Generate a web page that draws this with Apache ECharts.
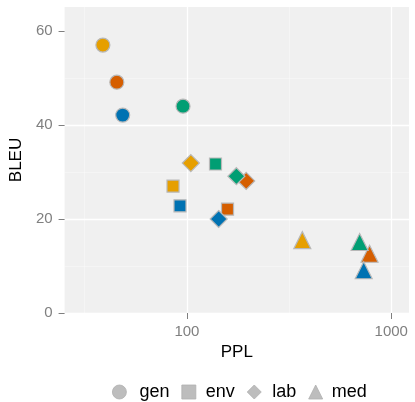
<!DOCTYPE html>
<html>
<head>
<meta charset="utf-8">
<script src="https://cdn.jsdelivr.net/npm/echarts@6.0.0/dist/echarts.min.js"></script>
<style>
  html, body { margin: 0; padding: 0; background: #fff; }
  #chart { width: 415px; height: 402px; }
</style>
</head>
<body>
<div id="chart"></div>
<script>
const domains = ["gen", "env", "lab", "med"];
const domainSymbols = ["circle", "rect", "diamond", "triangle"];
const modelColors = ["#E69F00", "#D55E00", "#0072B2", "#009E73"];

// PPL (log x) and BLEU per domain, one value per model colour
const genPPL = [38.8, 45.4, 48.5, 95.7];
const genBLEU = [57.0, 49.1, 42.1, 44.0];
const envPPL = [85.5, 158, 92.5, 138];
const envBLEU = [27.0, 22.1, 22.8, 31.7];
const labPPL = [104.5, 195, 143, 174.6];
const labBLEU = [31.9, 28.1, 20.0, 29.1];
const medPPL = [367, 783, 733, 700];
const medBLEU = [15.5, 12.6, 9.1, 15.1];

const xTicks = [100, 1000];
const xMinor = [31.62, 316.2];
const yTicks = [0, 20, 40, 60];

const pplByDomain = [genPPL, envPPL, labPPL, medPPL];
const bleuByDomain = [genBLEU, envBLEU, labBLEU, medBLEU];
const symbolSizes = [14, 12, 17, 17];

const chart = echarts.init(document.getElementById("chart"), null, { renderer: "canvas" });

const series = domains.map((name, d) => ({
  name,
  type: "scatter",
  symbol: domainSymbols[d],
  symbolSize: symbolSizes[d],
  z: 3,
  itemStyle: { color: "#BDBDBD", borderColor: "#B5B5B5", borderWidth: 1, opacity: 1 },
  data: pplByDomain[d].map((x, i) => ({
    value: [x, bleuByDomain[d][i]],
    itemStyle: { color: modelColors[i], borderColor: "#B8B8B8", borderWidth: 1.2, opacity: 1 }
  }))
}));

// grid lines on the log axis
series.push({
  type: "scatter",
  data: [],
  silent: true,
  markLine: {
    z: 1,
    silent: true,
    symbol: "none",
    label: { show: false },
    animation: false,
    data: [
      ...xTicks.map((v) => ({ xAxis: v, lineStyle: { color: "#ffffff", width: 1.3, type: "solid" } })),
      ...xMinor.map((v) => ({ xAxis: v, lineStyle: { color: "rgba(255,255,255,0.6)", width: 0.6, type: "solid" } }))
    ]
  }
});

const legendPads = [[0, 3, 0, 8], [0, 0, 0, 5], [0, 4, 0, 6], [0, 0, 0, 4]];

chart.setOption({
  animation: false,
  textStyle: { fontFamily: "Liberation Sans, Arial, sans-serif" },
  grid: {
    left: 60, right: 6, top: 7, bottom: 89,
    show: true, backgroundColor: "#F0F0F0", borderWidth: 0
  },
  legend: {
    top: 383,
    left: 112,
    padding: 0,
    itemWidth: 14,
    itemHeight: 14,
    itemGap: 12,
    textStyle: { fontSize: 18, color: "#000" },
    data: domains.map((name, d) => ({
      name,
      icon: domainSymbols[d],
      itemStyle: { color: "#BDBDBD", borderColor: "#B0B0B0", borderWidth: 0.8, opacity: 1 },
      textStyle: { padding: legendPads[d] }
    }))
  },
  xAxis: {
    type: "log",
    logBase: 10,
    min: 25.2,
    max: 1221,
    name: "PPL",
    nameLocation: "middle",
    nameGap: 31,
    nameTextStyle: { fontSize: 17, color: "#000" },
    axisLine: { show: false },
    axisTick: { show: true, customValues: xTicks, length: 6, lineStyle: { color: "#7F7F7F" } },
    axisLabel: {
      customValues: xTicks, fontSize: 15, color: "#7F7F7F", margin: 11,
      formatter: (v) => String(Math.round(v))
    },
    splitLine: { show: false }
  },
  yAxis: {
    type: "value",
    min: 0,
    max: 65.1,
    interval: 20,
    name: "BLEU",
    nameLocation: "middle",
    nameGap: 32,
    nameTextStyle: { fontSize: 17, color: "#000" },
    axisLine: { show: false },
    axisTick: { show: true, customValues: yTicks, length: 6, lineStyle: { color: "#7F7F7F" } },
    axisLabel: { customValues: yTicks, fontSize: 15, color: "#7F7F7F", margin: 12 },
    splitLine: { show: true, showMaxLine: false, lineStyle: { color: "#ffffff", width: 1.3 } },
    minorTick: { show: false, splitNumber: 2 },
    minorSplitLine: { show: true, lineStyle: { color: "rgba(255,255,255,0.6)", width: 0.6 } }
  },
  series
});
</script>
</body>
</html>
